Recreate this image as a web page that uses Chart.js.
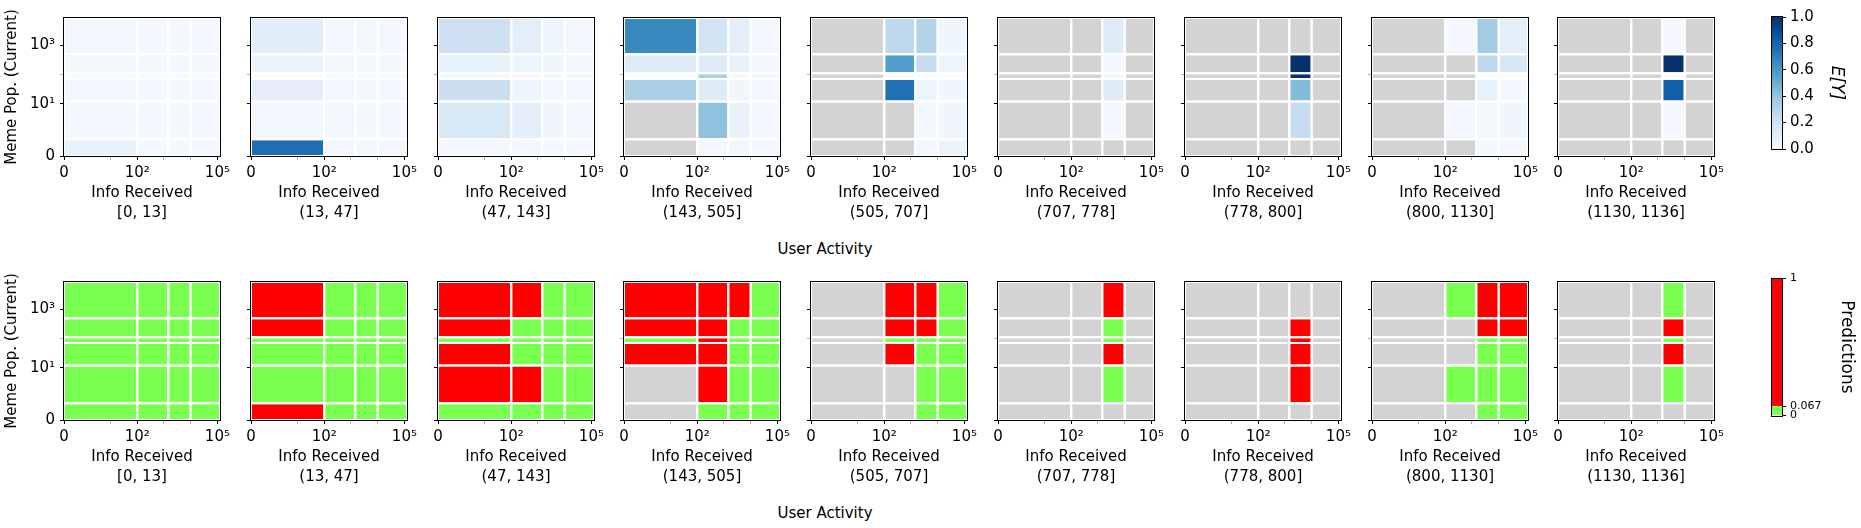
<!DOCTYPE html>
<html>
<head>
<meta charset="utf-8">
<script src="https://cdn.jsdelivr.net/npm/chart.js@4.4.0/dist/chart.umd.min.js"></script>
<style>
  body { margin: 0; background: #fff; width: 1861px; height: 528px; position: relative; overflow: hidden; font-family: 'DejaVu Sans', sans-serif; }
  canvas { position: absolute; }
  .lbl { position: absolute; font-size: 15px; color: #000; transform: translate(-50%, -50%); white-space: nowrap; }
</style>
</head>
<body>
<div class="lbl" style="left:825px;top:249px">User Activity</div>
<div class="lbl" style="left:825px;top:513px">User Activity</div>
<script>
// user activity bins (one panel each)
const activityBins = ['[0, 13]', '(13, 47]', '(47, 143]', '(143, 505]', '(505, 707]',
                      '(707, 778]', '(778, 800]', '(800, 1130]', '(1130, 1136]'];
// tree split edges
const infoEdges = [0, 100, 1450, 10000, 125000];          // Info Received
const popEdges = [0, 0.73, 12, 70, 110, 490, 8500];       // Meme Pop. (Current)
// axis ticks
const xTickValues = [0, 100, 100000];
const xTickLabels = ['0', '10²', '10⁵'];
const xMinorTicks = [10, 1000, 10000];
const yTickValues = [0, 10, 1000];
const yTickLabels = ['0', '10¹', '10³'];
const yMinorTicks = [100];
const predThreshold = 0.067;

// E[Y] per panel: rows from top (high pop) to bottom, columns low -> high info; null = no data
const expectedY = [
  [[0.03, 0.02, 0.02, 0.02], [0.02, 0.02, 0.02, 0.02], [0.01, 0.01, 0.01, 0.01],
   [0.03, 0.02, 0.02, 0.02], [0.02, 0.02, 0.02, 0.02], [0.08, 0.02, 0.02, 0.03]],
  [[0.11, 0.03, 0.03, 0.02], [0.06, 0.03, 0.02, 0.02], [0.00, 0.01, 0.01, 0.01],
   [0.09, 0.03, 0.02, 0.02], [0.02, 0.03, 0.02, 0.02], [0.76, 0.03, 0.03, 0.03]],
  [[0.21, 0.10, 0.05, 0.03], [0.08, 0.05, 0.04, 0.03], [0.02, 0.02, 0.02, 0.02],
   [0.23, 0.05, 0.03, 0.03], [0.15, 0.09, 0.04, 0.03], [0.03, 0.03, 0.02, 0.02]],
  [[0.66, 0.19, 0.10, 0.03], [0.12, 0.12, 0.07, 0.03], [0.00, 0.34, 0.02, 0.02],
   [0.34, 0.12, 0.04, 0.03], [null, 0.41, 0.07, 0.03], [null, 0.02, 0.03, 0.03]],
  [[null, 0.27, 0.31, 0.04], [null, 0.57, 0.25, 0.05], [null, 0.00, 0.00, 0.00],
   [null, 0.75, 0.05, 0.04], [null, null, 0.02, 0.04], [null, null, 0.03, 0.06]],
  [[null, null, 0.12, null], [null, null, 0.02, null], [null, null, 0.02, null],
   [null, null, 0.12, null], [null, null, 0.02, null], [null, null, null, null]],
  [[null, null, null, null], [null, null, 1.00, null], [null, null, 1.00, null],
   [null, null, 0.44, null], [null, null, 0.25, null], [null, null, null, null]],
  [[null, 0.02, 0.36, 0.10], [null, null, 0.27, 0.16], [null, null, 0.00, 0.00],
   [null, null, 0.08, 0.02], [null, 0.03, 0.03, 0.04], [null, null, 0.02, 0.03]],
  [[null, null, 0.02, null], [null, null, 1.00, null], [null, null, 0.00, null],
   [null, null, 0.82, null], [null, null, 0.02, null], [null, null, null, null]]
];

// predictions per panel (1 = red, 0 = green, null = no data)
const predictions = [
  [[0, 0, 0, 0], [0, 0, 0, 0], [0, 0, 0, 0], [0, 0, 0, 0], [0, 0, 0, 0], [0, 0, 0, 0]],
  [[1, 0, 0, 0], [1, 0, 0, 0], [0, 0, 0, 0], [0, 0, 0, 0], [0, 0, 0, 0], [1, 0, 0, 0]],
  [[1, 1, 0, 0], [1, 0, 0, 0], [0, 0, 0, 0], [1, 0, 0, 0], [1, 1, 0, 0], [0, 0, 0, 0]],
  [[1, 1, 1, 0], [1, 1, 0, 0], [0, 1, 0, 0], [1, 1, 0, 0], [null, 1, 0, 0], [null, 0, 0, 0]],
  [[null, 1, 1, 0], [null, 1, 1, 0], [null, 0, 0, 0], [null, 1, 0, 0], [null, null, 0, 0], [null, null, 0, 0]],
  [[null, null, 1, null], [null, null, 0, null], [null, null, 0, null], [null, null, 1, null], [null, null, 0, null], [null, null, null, null]],
  [[null, null, null, null], [null, null, 1, null], [null, null, 1, null], [null, null, 1, null], [null, null, 1, null], [null, null, null, null]],
  [[null, 0, 1, 1], [null, null, 1, 1], [null, null, 0, 0], [null, null, 0, 0], [null, 0, 0, 0], [null, null, 0, 0]],
  [[null, null, 0, null], [null, null, 1, null], [null, null, 0, null], [null, null, 1, null], [null, null, 0, null], [null, null, null, null]]
];

const GREY = '#d3d3d3', RED = '#ff0000', GREEN = '#78ff50';
const BLUES = ['#f7fbff', '#deebf7', '#c6dbef', '#9ecae1', '#6baed6', '#4292c6', '#2171b5', '#08519c', '#08306b'];

function hexRgb(h) { return [1, 3, 5].map(i => parseInt(h.substr(i, 2), 16)); }
function blues(v) {
  const t = Math.max(0, Math.min(1, v)) * (BLUES.length - 1);
  const i = Math.min(Math.floor(t), BLUES.length - 2), f = t - i;
  const a = hexRgb(BLUES[i]), b = hexRgb(BLUES[i + 1]);
  return 'rgb(' + a.map((c, k) => Math.round(c + (b[k] - c) * f)).join(',') + ')';
}

// symlog-like axis (linear below 1, log above)
const LIN = {x: 0.74, y: 0.78};
function symlog(v, lin) { return v <= 1 ? v * lin : lin + Math.log10(v); }
function unsymlog(t, lin) { return t <= lin ? t / lin : Math.pow(10, t - lin); }

class SymlogScale extends Chart.LinearScale {
  getPixelForValue(value) {
    if (value === null || value === undefined) return NaN;
    const lin = LIN[this.axis];
    const a = symlog(this.min, lin), b = symlog(this.max, lin);
    return this.getPixelForDecimal((symlog(value, lin) - a) / (b - a));
  }
  getValueForPixel(pixel) {
    const lin = LIN[this.axis];
    const a = symlog(this.min, lin), b = symlog(this.max, lin);
    return unsymlog(a + this.getDecimalForPixel(pixel) * (b - a), lin);
  }
}
SymlogScale.id = 'symlog';
SymlogScale.defaults = Chart.LinearScale.defaults;
Chart.register(SymlogScale);

Chart.defaults.font.family = "'DejaVu Sans', sans-serif";
Chart.defaults.font.size = 15;
Chart.defaults.color = '#000';

const framePlugin = {
  id: 'frame',
  afterDraw(chart) {
    const {ctx, chartArea: a} = chart;
    ctx.save();
    ctx.strokeStyle = '#000';
    ctx.lineWidth = 1;
    ctx.strokeRect(Math.round(a.left) - 0.5, Math.round(a.top) - 0.5,
                   Math.round(a.right - a.left) + 1, Math.round(a.bottom - a.top) + 1);
    ctx.restore();
  }
};

function tickSetter(major, minor) {
  return function (axis) {
    axis.ticks = major.map(v => ({value: v})).concat(minor.map(v => ({value: v, minor: true})))
      .sort((a, b) => a.value - b.value);
  };
}
function tickColor(ctx) { return ctx.tick && ctx.tick.minor ? '#b0b0b0' : '#000'; }

const PANEL_X0 = 64, PANEL_STEP = 186.8, PANEL_W = 156, PANEL_H = 142;
const ROW_TOPS = [14, 278];
const PAD_L = 64, PAD_R = 22, PAD_T = 10, PAD_B = 67;

function makeCanvas(left, top, w, h) {
  const c = document.createElement('canvas');
  c.width = w; c.height = h;
  c.style.left = left + 'px'; c.style.top = top + 'px';
  c.style.width = w + 'px'; c.style.height = h + 'px';
  document.body.appendChild(c);
  return c;
}

function drawPanel(p, row) {
  const left = Math.round(PANEL_X0 + p * PANEL_STEP);
  const canvas = makeCanvas(left - PAD_L, ROW_TOPS[row] - PAD_T, PAD_L + PANEL_W + PAD_R, PAD_T + PANEL_H + PAD_B);
  const matrix = row === 0 ? expectedY[p] : predictions[p];
  const nRows = popEdges.length - 1;
  const datasets = [];
  matrix.forEach((cells, r) => {
    const y0 = popEdges[nRows - 1 - r], y1 = popEdges[nRows - r];
    cells.forEach((v, c) => {
      const x0 = infoEdges[c], x1 = infoEdges[c + 1];
      let color;
      if (v === null) color = GREY;
      else if (row === 0) color = blues(v);
      else color = v ? RED : GREEN;
      datasets.push({
        data: [{x: x0, y: y0}, {x: x1, y: y0}, {x: x1, y: y1}, {x: x0, y: y1}, {x: x0, y: y0}],
        showLine: true,
        fill: 'shape',
        backgroundColor: color,
        borderColor: '#ffffff',
        borderWidth: 2,
        pointRadius: 0,
        tension: 0,
        clip: 0
      });
    });
  });

  new Chart(canvas, {
    type: 'scatter',
    data: {datasets},
    plugins: [framePlugin],
    options: {
      responsive: false,
      animation: false,
      devicePixelRatio: 1,
      events: [],
      layout: {padding: {left: 0, top: PAD_T, right: PAD_R, bottom: 0}},
      plugins: {legend: {display: false}, tooltip: {enabled: false}, filler: {drawTime: 'beforeDatasetsDraw'}},
      scales: {
        x: {
          type: 'symlog',
          min: infoEdges[0], max: infoEdges[infoEdges.length - 1],
          afterFit: s => { s.height = PAD_B; },
          afterBuildTicks: tickSetter(xTickValues, xMinorTicks),
          border: {display: false},
          grid: {drawOnChartArea: false, drawTicks: true, tickLength: 4, tickWidth: 1, tickColor},
          ticks: {
            autoSkip: false, maxRotation: 0, minRotation: 0, padding: 4,
            callback: (v, i, ticks) => ticks[i].minor ? '' : xTickLabels[xTickValues.indexOf(ticks[i].value)]
          },
          title: {display: true, text: ['Info Received', activityBins[p]], padding: 0,
                  font: {size: 15, lineHeight: '20px'}}
        },
        y: {
          type: 'symlog',
          min: popEdges[0], max: popEdges[popEdges.length - 1],
          afterFit: s => { s.width = PAD_L; },
          afterBuildTicks: tickSetter(yTickValues, yMinorTicks),
          border: {display: false},
          grid: {drawOnChartArea: false, drawTicks: true, tickLength: 4, tickWidth: 1, tickColor},
          ticks: {
            autoSkip: false, padding: 5,
            callback: (v, i, ticks) => (p > 0 || ticks[i].minor) ? '' : yTickLabels[yTickValues.indexOf(ticks[i].value)]
          },
          title: {display: p === 0, text: 'Meme Pop. (Current)', padding: {top: 3, bottom: 0}, font: {size: 15}}
        }
      }
    }
  });
}

const CB_LEFT = 1772, CB_W = 10;
function drawColorbar(row) {
  const padL = 10, padT = 10, padB = 6, axisW = 1861 - (CB_LEFT + CB_W);
  const canvas = makeCanvas(CB_LEFT - padL, ROW_TOPS[row] - padT, padL + CB_W + axisW, padT + PANEL_H + padB);
  let datasets, yScale;
  if (row === 0) {
    datasets = [{
      data: [[0, 1]],
      backgroundColor: (ctx) => {
        const a = ctx.chart.chartArea;
        if (!a) return BLUES[0];
        const g = ctx.chart.ctx.createLinearGradient(0, a.bottom, 0, a.top);
        BLUES.forEach((c, i) => g.addColorStop(i / (BLUES.length - 1), c));
        return g;
      },
      borderWidth: 0, barPercentage: 1, categoryPercentage: 1
    }];
    yScale = {
      ticks: {stepSize: 0.2, padding: 4, autoSkip: false, callback: v => v.toFixed(1)},
      title: {display: true, text: 'E[Y]', padding: {top: 14, bottom: 0}, font: {size: 17, style: 'italic'}}
    };
  } else {
    datasets = [
      {data: [[0, predThreshold]], backgroundColor: GREEN, borderWidth: 0, barPercentage: 1, categoryPercentage: 1, grouped: false},
      {data: [[predThreshold, 1]], backgroundColor: RED, borderWidth: 0, barPercentage: 1, categoryPercentage: 1, grouped: false}
    ];
    yScale = {
      afterBuildTicks: s => { s.ticks = [0, predThreshold, 1].map(v => ({value: v})); },
      ticks: {padding: 4, autoSkip: false, font: {size: 11}, callback: v => String(v)},
      title: {display: true, text: 'Predictions', padding: {top: 4, bottom: 0}, font: {size: 17}}
    };
  }
  new Chart(canvas, {
    type: 'bar',
    data: {labels: [''], datasets},
    plugins: [framePlugin],
    options: {
      responsive: false,
      animation: false,
      devicePixelRatio: 1,
      events: [],
      layout: {padding: {left: padL, top: padT, right: 0, bottom: padB}},
      plugins: {legend: {display: false}, tooltip: {enabled: false}},
      scales: {
        x: {display: false},
        y: Object.assign({
          position: 'right', min: 0, max: 1,
          afterFit: s => { s.width = axisW; },
          border: {display: false},
          grid: {drawOnChartArea: false, drawTicks: true, tickLength: 4, tickColor: '#000'}
        }, yScale)
      }
    }
  });
}

for (let row = 0; row < 2; row++) {
  for (let p = 0; p < activityBins.length; p++) drawPanel(p, row);
  drawColorbar(row);
}
</script>
</body>
</html>
